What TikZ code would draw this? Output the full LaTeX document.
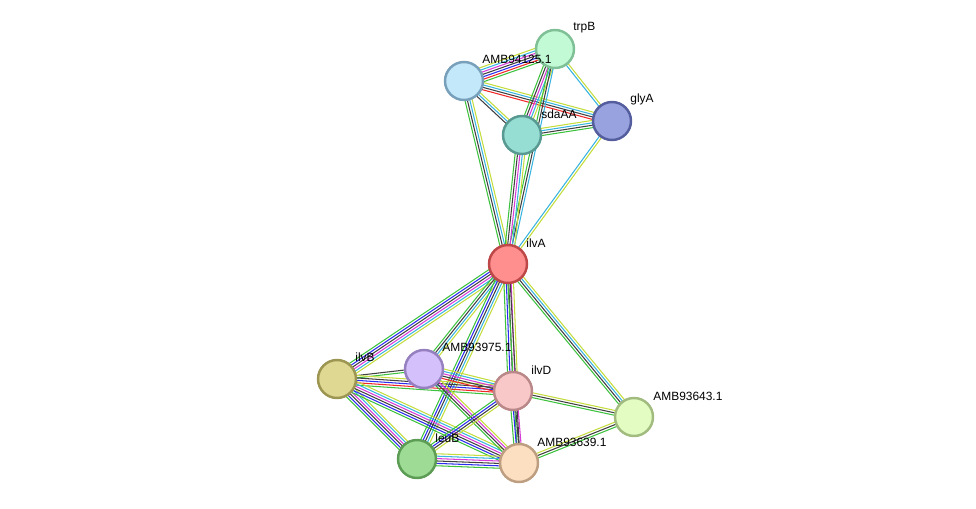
\documentclass[tikz,border=0pt]{standalone}
\usepackage{fontspec}
\setmainfont{Liberation Sans}
\usetikzlibrary{calc}
\pgfdeclarelayer{background}
\pgfsetlayers{background,main}

% evidence colours
\definecolor{evgreen}{HTML}{3DC23D}
\definecolor{evred}{HTML}{F02828}
\definecolor{evblue}{HTML}{2C2CF0}
\definecolor{evblack}{HTML}{404040}
\definecolor{evmagenta}{HTML}{D83CD8}
\definecolor{evcyan}{HTML}{38B4E0}
\definecolor{evyellow}{HTML}{C4DC3C}

% one bundle of parallel evidence lines between two proteins
\newcommand{\evlink}[3]{%
  \foreach \col [count=\n] in {#3} {\xdef\nlines{\n}}%
  \foreach \col [count=\i] in {#3} {%
    \pgfmathsetmacro\off{(\i-(\nlines+1)/2)*2.4}%
    \draw[evline,\col] ($(#1.center)!\off*0.02cm!90:(#2.center)$) -- ($(#2.center)!\off*0.02cm!-90:(#1.center)$);
  }%
}

\begin{document}
\begin{tikzpicture}[x=0.02cm,y=-0.02cm,
    protein/.style={circle,minimum size=0.76cm,inner sep=0pt,line width=1.4pt},
    plabel/.style={font=\fontsize{6.8}{8}\selectfont,anchor=west,inner sep=0pt},
    evline/.style={line width=0.6pt}]

    \useasboundingbox (0,0) rectangle (976,509);

    % Draw the proteins
    \node[protein,fill={rgb,255:red,194;green,250;blue,214},draw={rgb,255:red,128;green,192;blue,150}] (trpB) at (555,49) {};
    \node[protein,fill={rgb,255:red,194;green,232;blue,250},draw={rgb,255:red,120;green,160;blue,186}] (AMB94125) at (464,81) {};
    \node[protein,fill={rgb,255:red,150;green,222;blue,212},draw={rgb,255:red,88;green,154;blue,146}] (sdaAA) at (522,135) {};
    \node[protein,fill={rgb,255:red,152;green,162;blue,222},draw={rgb,255:red,84;green,94;blue,158}] (glyA) at (612,121) {};
    \node[protein,fill={rgb,255:red,255;green,142;blue,142},draw={rgb,255:red,190;green,72;blue,72}] (ilvA) at (508,264) {};
    \node[protein,fill={rgb,255:red,222;green,216;blue,146},draw={rgb,255:red,156;green,150;blue,82}] (ilvB) at (337,379) {};
    \node[protein,fill={rgb,255:red,212;green,192;blue,250},draw={rgb,255:red,150;green,128;blue,192}] (AMB93975) at (424,369) {};
    \node[protein,fill={rgb,255:red,248;green,200;blue,200},draw={rgb,255:red,186;green,136;blue,136}] (ilvD) at (513,391) {};
    \node[protein,fill={rgb,255:red,226;green,252;blue,194},draw={rgb,255:red,162;green,188;blue,128}] (AMB93643) at (634,417) {};
    \node[protein,fill={rgb,255:red,158;green,220;blue,150},draw={rgb,255:red,92;green,156;blue,84}] (leuB) at (417,459) {};
    \node[protein,fill={rgb,255:red,252;green,222;blue,192},draw={rgb,255:red,190;green,158;blue,128}] (AMB93639) at (519,463) {};

    % Labels next to the proteins
    \node[plabel] (trpB-l) at ($(trpB)+(18,-21)$) {trpB};
    \node[plabel] (AMB94125-l) at ($(AMB94125)+(18,-22)$) {AMB94125.1};
    \node[plabel] (sdaAA-l) at ($(sdaAA)+(19,-21)$) {sdaAA};
    \node[plabel] (glyA-l) at ($(glyA)+(18,-22)$) {glyA};
    \node[plabel] (ilvA-l) at ($(ilvA)+(18,-21)$) {ilvA};
    \node[plabel] (ilvB-l) at ($(ilvB)+(18,-22)$) {ilvB};
    \node[plabel] (AMB93975-l) at ($(AMB93975)+(18,-22)$) {AMB93975.1};
    \node[plabel] (ilvD-l) at ($(ilvD)+(18,-21)$) {ilvD};
    \node[plabel] (AMB93643-l) at ($(AMB93643)+(19,-21)$) {AMB93643.1};
    \node[plabel] (leuB-l) at ($(leuB)+(18,-21)$) {leuB};
    \node[plabel] (AMB93639-l) at ($(AMB93639)+(18,-21)$) {AMB93639.1};

    % Draw the evidence lines behind the proteins
    \begin{pgfonlayer}{background}
    \evlink{AMB94125}{trpB}{evgreen,evred,evblue,evblack,evmagenta,evcyan,evyellow}
    \evlink{AMB94125}{glyA}{evred,evblack,evcyan,evyellow}
    \evlink{AMB94125}{sdaAA}{evblack,evcyan,evyellow}
    \evlink{AMB94125}{ilvA}{evgreen,evblack,evcyan,evyellow}
    \evlink{trpB}{sdaAA}{evgreen,evblack,evmagenta,evcyan,evyellow}
    \evlink{trpB}{glyA}{evcyan,evyellow}
    \evlink{trpB}{ilvA}{evgreen,evblack,evcyan}
    \evlink{sdaAA}{glyA}{evgreen,evblack,evcyan,evyellow}
    \evlink{sdaAA}{ilvA}{evgreen,evblack,evmagenta,evcyan,evyellow}
    \evlink{glyA}{ilvA}{evcyan,evyellow}

    \evlink{ilvA}{ilvB}{evgreen,evblue,evblack,evmagenta,evcyan,evyellow}
    \evlink{ilvA}{AMB93975}{evgreen,evblack,evcyan,evyellow}
    \evlink{ilvA}{leuB}{evgreen,evblue,evblack,evcyan,evyellow}
    \evlink{ilvA}{ilvD}{evgreen,evblue,evblack,evmagenta,evyellow}
    \evlink{ilvA}{AMB93639}{evgreen,evblack}
    \evlink{ilvA}{AMB93643}{evgreen,evblack,evcyan,evyellow}
    \evlink{ilvB}{AMB93975}{evgreen,evblack}
    \evlink{ilvB}{ilvD}{evgreen,evred,evblue,evblack,evyellow}
    \evlink{ilvB}{leuB}{evgreen,evblue,evblack,evmagenta,evcyan,evyellow}
    \evlink{ilvB}{AMB93639}{evgreen,evblue,evblack,evmagenta,evcyan,evyellow}
    \evlink{AMB93975}{ilvD}{evred,evblack,evmagenta,evcyan,evyellow}
    \evlink{AMB93975}{AMB93639}{evgreen,evblack,evmagenta,evyellow}
    \evlink{ilvD}{leuB}{evgreen,evblue,evblack,evyellow}
    \evlink{ilvD}{AMB93639}{evgreen,evblue,evblack,evmagenta}
    \evlink{ilvD}{AMB93643}{evgreen,evblack,evyellow}
    \evlink{leuB}{AMB93639}{evgreen,evblue,evblack,evmagenta,evcyan,evyellow}
    \evlink{AMB93639}{AMB93643}{evgreen,evblack,evyellow}
    \end{pgfonlayer}

\end{tikzpicture}
\end{document}
